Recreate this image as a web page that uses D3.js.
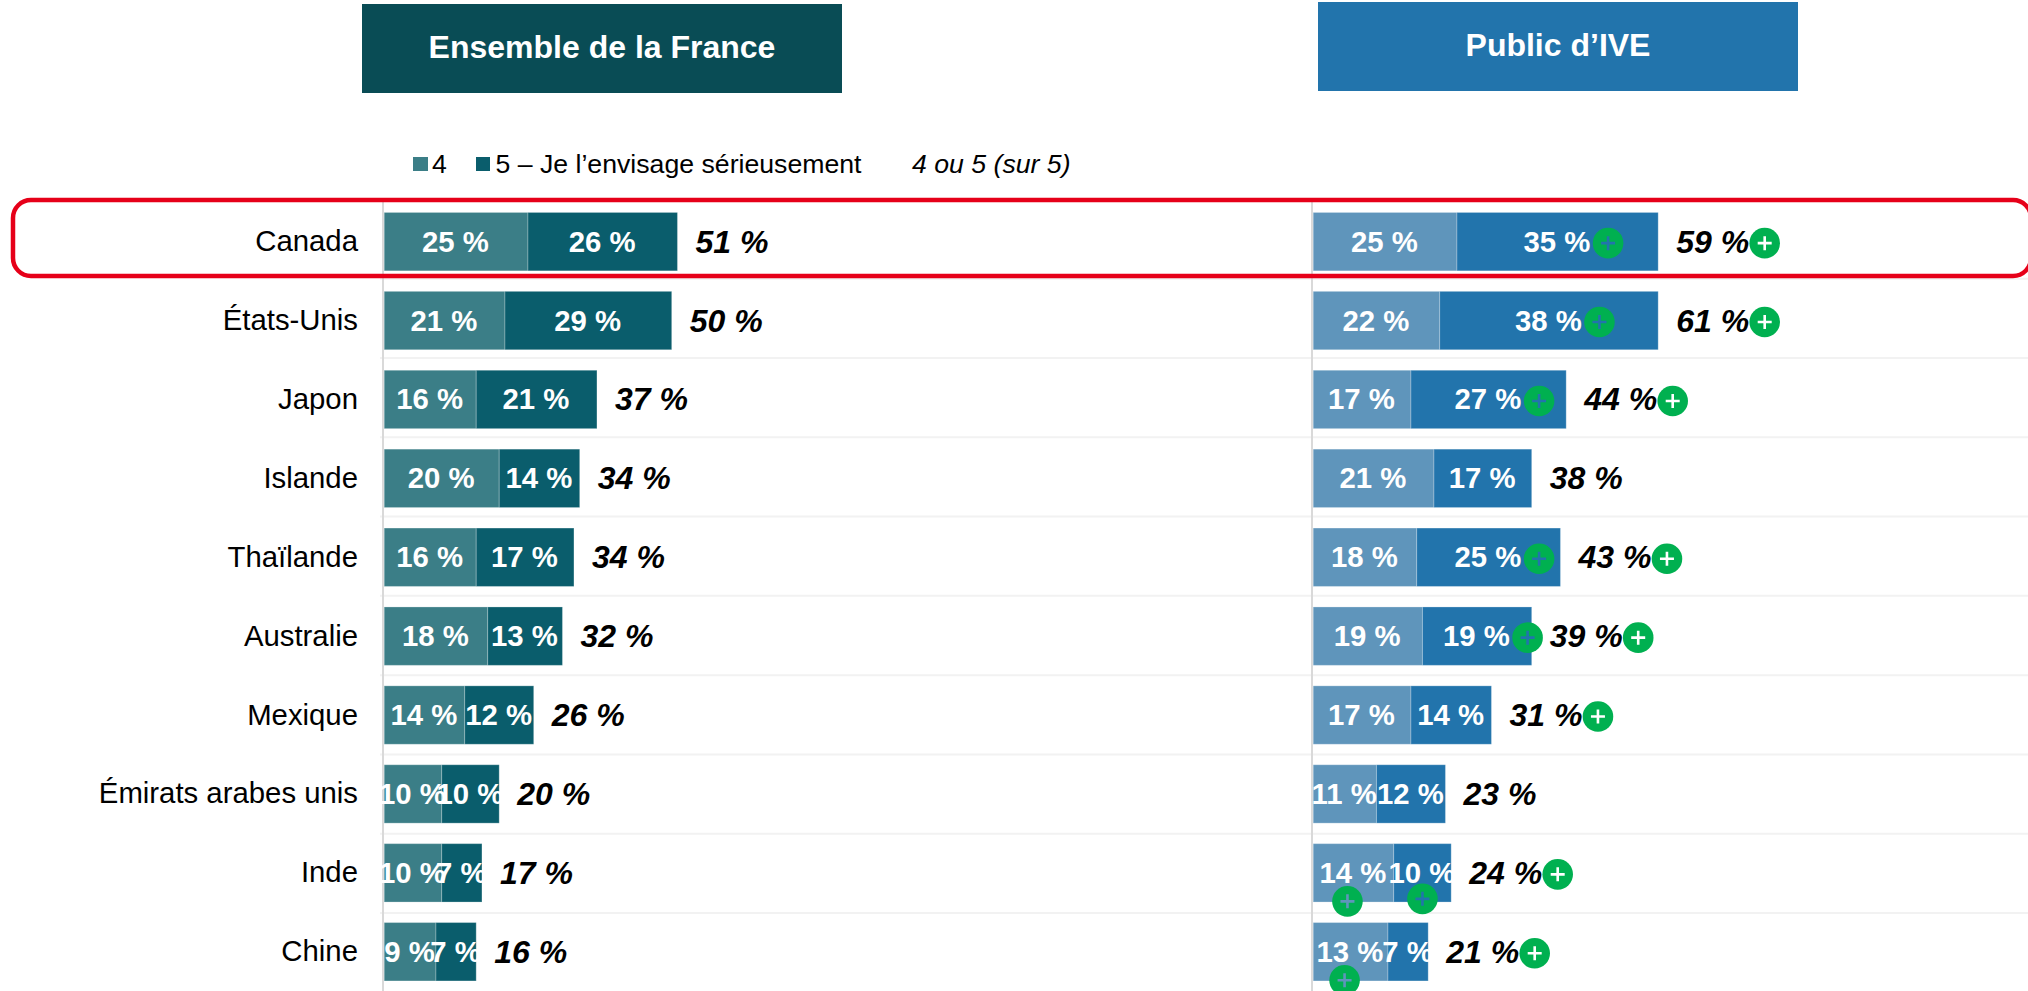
<!DOCTYPE html>
<html><head><meta charset="utf-8">
<script src="https://cdn.jsdelivr.net/npm/d3@7/dist/d3.min.js"></script>
<style>html,body{margin:0;padding:0;background:#fff}svg{display:block}text{font-family:"Liberation Sans",Arial,sans-serif}</style>
</head><body><svg id="c" width="2028" height="991"></svg>
<script>
const categories=["Canada","États-Unis","Japon","Islande","Thaïlande","Australie","Mexique","Émirats arabes unis","Inde","Chine"];
const france4=[25,21,16,20,16,18,14,10,10,9];
const france5=[26,29,21,14,17,13,12,10,7,7];
const franceTotal=[51,50,37,34,34,32,26,20,17,16];
const ive4=[25,22,17,21,18,19,17,11,14,13];
const ive5=[35,38,27,17,25,19,14,12,10,7];
const iveTotal=[59,61,44,38,43,39,31,23,24,21];
const ive4Flag=[0,0,0,0,0,0,0,0,1,1];
const ive5Flag=[1,1,1,0,1,1,0,0,1,0];
const iveTotalFlag=[1,1,1,0,1,1,1,0,1,1];
const panels=[
 {title:"Ensemble de la France",a:france4,b:france5,t:franceTotal,x0:384,ca:"#3b7e87",cb:"#0a5d6c",head:"#094c55",hx:362,hy:4,fa:null},
 {title:"Public d’IVE",a:ive4,b:ive5,t:iveTotal,x0:1313,ca:"#5f95bb",cb:"#2274ac",head:"#2274ac",hx:1318,hy:2,fa:ive4Flag,fb:ive5Flag,ft:iveTotalFlag}
];
const svg=d3.select("#c");
const y=d3.scaleBand().domain(categories).range([202.2,991.2]).paddingInner(0.26).paddingOuter(0.13);
const rowC=c=>y(c)+y.bandwidth()/2;
const grid=d3.scalePoint().domain(categories.slice(0,-1)).range([278.7,913]);

// gridlines
svg.append("g").selectAll("line").data(categories.slice(0,-1)).join("line")
  .attr("x1",380).attr("x2",2028)
  .attr("y1",c=>grid(c)).attr("y2",c=>grid(c))
  .attr("stroke","#f2f2f2").attr("stroke-width",2);

// category labels
svg.append("g").selectAll("text").data(categories).join("text")
  .attr("x",358).attr("y",c=>rowC(c)+9.5).attr("text-anchor","end")
  .attr("font-size",29.33).attr("fill","#000").text(c=>c);

function plus(g,cx,cy,fill){
  g.append("circle").attr("cx",cx).attr("cy",cy).attr("r",15.3).attr("fill","#00b050");
  g.append("path").attr("d",`M${cx-7} ${cy}H${cx+7}M${cx} ${cy-7}V${cy+7}`)
   .attr("stroke",fill).attr("stroke-width",2.6).attr("fill","none");
}

panels.forEach(p=>{
  // header
  svg.append("rect").attr("x",p.hx).attr("y",p.hy).attr("width",480).attr("height",89).attr("fill",p.head);
  svg.append("text").attr("x",p.hx+240).attr("y",p.hy+54).attr("text-anchor","middle")
    .attr("font-size",32).attr("font-weight","bold").attr("fill","#fff").text(p.title);
  // axis
  svg.append("line").attr("x1",p.x0-1).attr("x2",p.x0-1).attr("y1",200).attr("y2",991)
    .attr("stroke","#d9d9d9").attr("stroke-width",2);
  const x=d3.scaleLinear().domain([0,1]).range([p.x0+0.2,p.x0+0.2+5.75]);
  const g=svg.append("g");
  categories.forEach((c,i)=>{
    const a=p.a[i],b=p.b[i];
    g.append("rect").attr("x",x(0)).attr("y",y(c)).attr("width",x(a)-x(0)).attr("height",y.bandwidth())
      .attr("fill",p.ca).attr("stroke","#ffffff").attr("stroke-opacity",.25).attr("stroke-width",1);
    g.append("rect").attr("x",x(a)).attr("y",y(c)).attr("width",x(a+b)-x(a)).attr("height",y.bandwidth())
      .attr("fill",p.cb).attr("stroke","#ffffff").attr("stroke-opacity",.25).attr("stroke-width",1);
  });
  categories.forEach((c,i)=>{
    const a=p.a[i],b=p.b[i],cy=rowC(c);
    const lab=(cx,v)=>g.append("text").attr("x",cx-0.6).attr("y",cy+10).attr("text-anchor","middle")
      .attr("font-size",29.33).attr("font-weight","bold").attr("fill","#fff").text(v+" %");
    lab(x(a/2),a); lab(x(a+b/2),b);
    g.append("text").attr("x",x(a+b)+18).attr("y",cy+11).attr("font-size",32)
      .attr("font-weight","bold").attr("font-style","italic").attr("fill","#000").text(p.t[i]+" %");
    if(p.fa){
      if(p.fa[i]) plus(g,x(a/2)-6,cy+28.5,p.ca);
      if(p.fb[i]){
        const below=p.fa[i]===1;
        if(below) plus(g,x(a+b/2),cy+26,p.cb);
        else plus(g,x(a+b/2)+50.5,cy+1.5,p.cb);
      }
      if(p.ft[i]) plus(g,x(a+b)+106.5,cy+1.5,"#fff");
    }
  });
});

// legend
const lg=svg.append("g");
lg.append("rect").attr("x",413).attr("y",157).attr("width",15).attr("height",14).attr("fill",panels[0].ca);
lg.append("text").attr("x",432).attr("y",173).attr("font-size",26.67).text("4");
lg.append("rect").attr("x",476).attr("y",157).attr("width",14).attr("height",14).attr("fill",panels[0].cb);
lg.append("text").attr("x",495.5).attr("y",173).attr("font-size",26.67).text("5 – Je l’envisage sérieusement");
lg.append("text").attr("x",912).attr("y",173).attr("font-size",26.67).attr("font-style","italic").text("4 ou 5 (sur 5)");

// highlight box
svg.append("rect").attr("x",13).attr("y",200).attr("width",2018).attr("height",76).attr("rx",18)
  .attr("fill","none").attr("stroke","#e60019").attr("stroke-width",4.5);
</script></body></html>
